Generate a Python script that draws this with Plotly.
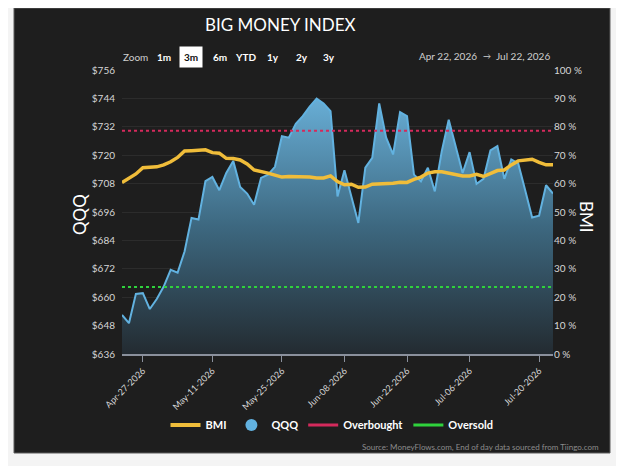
import pandas as pd
import plotly.graph_objects as go

# trading days shown on the chart (weekends + market holidays dropped)
HOLIDAYS = ["2026-05-25", "2026-06-19", "2026-07-03"]
dates = [d.strftime("%Y-%m-%d") for d in pd.bdate_range("2026-04-22", "2026-07-22")
         if d.strftime("%Y-%m-%d") not in HOLIDAYS]

qqq = [652.5, 649.0, 661.4, 661.7, 655.0, 659.2, 664.5, 671.6, 670.4, 679.3,
       693.5, 692.8, 709.0, 710.8, 705.2, 712.5, 717.6, 706.6, 703.8, 699.1,
       710.4, 711.8, 715.1, 728.0, 727.4, 733.3, 736.5, 740.5, 743.9, 741.8,
       738.6, 702.6, 713.6, 702.6, 691.4, 714.7, 718.9, 741.9, 727.4, 720.3,
       738.2, 736.5, 711.8, 709.0, 714.7, 704.7, 721.7, 735.0, 723.8, 712.5,
       721.3, 707.9, 710.0, 722.0, 723.8, 710.0, 718.2, 716.5, 705.2, 693.7,
       694.4, 707.3, 703.8]

bmi = [60.4, 61.9, 63.4, 65.6, 65.9, 65.9, 66.6, 67.7, 69.2, 71.5,
       71.6, 71.9, 71.9, 70.9, 70.7, 68.9, 68.8, 68.3, 66.9, 64.8,
       64.4, 63.7, 63.0, 62.3, 62.5, 62.5, 62.4, 62.3, 62.0, 62.0,
       62.7, 60.7, 59.6, 59.8, 58.7, 58.8, 59.8, 59.9, 59.9, 60.1,
       60.5, 60.4, 61.5, 62.3, 63.7, 64.2, 64.2, 63.7, 63.1, 62.7,
       62.7, 63.3, 62.5, 63.4, 64.6, 64.8, 66.6, 68.0, 68.3, 68.6,
       67.5, 66.6, 66.6]

OVERBOUGHT = 78.6
OVERSOLD = 23.6

tick_dates = ["2026-04-27", "2026-05-11", "2026-05-26", "2026-06-08",
              "2026-06-22", "2026-07-06", "2026-07-20"]
tick_labels = ["Apr-27-2026", "May-11-2026", "May-25-2026", "Jun-08-2026",
               "Jun-22-2026", "Jul-06-2026", "Jul-20-2026"]

zoom_buttons = ["1m", "3m", "6m", "YTD", "1y", "2y", "3y"]

FONT = "Lato"
BG = "#1e1e1e"
YELLOW = "#f0bd3a"
BLUE = "#62b2e0"
RED = "#d42a5c"
GREEN = "#2fd23c"

# plot area in window pixels (624x466 window, page body has an 8px margin)
L, R, T, B = 122, 553, 70, 354
W, H = 624, 466
PAGE = 8


def px(x):
    return (x - L) / (R - L)


def py(y):
    return (B - y) / (B - T)


fig = go.Figure()

fig.add_trace(go.Scatter(
    x=dates, y=qqq, name="QQQ", mode="lines", showlegend=False,
    line=dict(color=BLUE, width=2),
    fill="tozeroy",
    fillgradient=dict(type="vertical", start=636, stop=744,
                      colorscale=[[0, "#232b31"], [0.5, "#3d6880"], [1, "#68aed6"]]),
))
fig.add_trace(go.Scatter(
    x=dates, y=bmi, name="BMI", mode="lines", yaxis="y2", showlegend=False,
    line=dict(color=YELLOW, width=3.5),
))
fig.add_trace(go.Scatter(
    x=dates, y=[OVERBOUGHT] * len(dates), name="Overbought", mode="lines",
    yaxis="y2", showlegend=False, line=dict(color=RED, width=2, dash="dot"),
))
fig.add_trace(go.Scatter(
    x=dates, y=[OVERSOLD] * len(dates), name="Oversold", mode="lines",
    yaxis="y2", showlegend=False, line=dict(color=GREEN, width=2, dash="dot"),
))

# legend-only entries (the reference shows solid swatches and a dot for QQQ)
fig.add_trace(go.Scatter(x=[None], y=[None], name="BMI", mode="lines",
                         line=dict(color=YELLOW, width=4)))
fig.add_trace(go.Scatter(x=[None], y=[None], name="QQQ", mode="markers",
                         marker=dict(color=BLUE, size=12)))
fig.add_trace(go.Scatter(x=[None], y=[None], name="Overbought", mode="lines",
                         line=dict(color=RED, width=3)))
fig.add_trace(go.Scatter(x=[None], y=[None], name="Oversold", mode="lines",
                         line=dict(color=GREEN, width=3)))

annotations = [
    dict(text="BIG MONEY INDEX", x=px(280), y=py(24), font=dict(size=17, color="#ffffff")),
    dict(text="QQQ", x=px(79), y=py(215), textangle=-90, font=dict(size=17, color="#ffffff")),
    dict(text="BMI", x=px(587), y=py(217), textangle=90, font=dict(size=17, color="#ffffff")),
    dict(text="Zoom", x=px(135), y=py(57), font=dict(size=10, color="#cfcfcf")),
    dict(text="Apr 22, 2026", x=px(448), y=py(56), font=dict(size=10, color="#cfcfcf")),
    dict(text="→", x=px(487), y=py(56), font=dict(size=8, color="#cfcfcf")),
    dict(text="Jul 22, 2026", x=px(523), y=py(56), font=dict(size=10, color="#cfcfcf")),
    dict(text="Source: MoneyFlows.com, End of day data sourced from Tiingo.com",
         x=px(601), y=py(447), xanchor="right", font=dict(size=8, color="#8c8c8c")),
]
for lab, cx in zip(zoom_buttons, [163.5, 191, 219.5, 245.5, 272.5, 301.5, 328.5]):
    if lab == "3m":
        annotations.append(dict(text="<b>%s</b>" % lab, x=px(cx), y=py(57), bgcolor="#ffffff",
                                borderpad=4, font=dict(size=10, color="#111111")))
    else:
        annotations.append(dict(text="<b>%s</b>" % lab, x=px(cx), y=py(57),
                                font=dict(size=10, color="#ffffff")))
for a in annotations:
    a.update(xref="paper", yref="paper", showarrow=False)
    a.setdefault("xanchor", "center")
    a.setdefault("yanchor", "middle")

fig.update_layout(
    width=W - PAGE, height=H - PAGE,
    margin=dict(l=L - PAGE, r=W - R, t=T - PAGE, b=H - B),
    paper_bgcolor="#f4f4f4",
    plot_bgcolor=BG,
    font=dict(family=FONT, color="#d6d6d6"),
    shapes=[dict(type="rect", xref="paper", yref="paper", layer="below",
                 x0=px(14), x1=px(610), y0=py(453), y1=py(8),
                 fillcolor=BG, line=dict(color="#5c5c5c", width=1))],
    annotations=annotations,
    xaxis=dict(type="category", range=[0, len(dates) - 1],
               tickvals=tick_dates, ticktext=tick_labels, tickangle=-45,
               ticks="outside", ticklen=6, tickcolor="#8a909c",
               showline=True, linecolor="#8a909c", linewidth=2,
               showgrid=False, tickfont=dict(size=9, color="#d6d6d6")),
    yaxis=dict(range=[636, 756], dtick=12, tickprefix="$", showgrid=True,
               gridcolor="#2c2c2c", zeroline=False, ticklabelstandoff=6,
               tickfont=dict(size=10, color="#d6d6d6")),
    yaxis2=dict(range=[0, 100], dtick=10, ticksuffix=" %", overlaying="y",
                side="right", showgrid=False, zeroline=False,
                tickfont=dict(size=10, color="#d6d6d6")),
    legend=dict(orientation="h", x=px(332), xanchor="center", y=py(425),
                yanchor="middle", itemwidth=30,
                font=dict(size=11, color="#ffffff", weight="bold"),
                bgcolor="rgba(0,0,0,0)"),
)

fig.write_html("out.html")
